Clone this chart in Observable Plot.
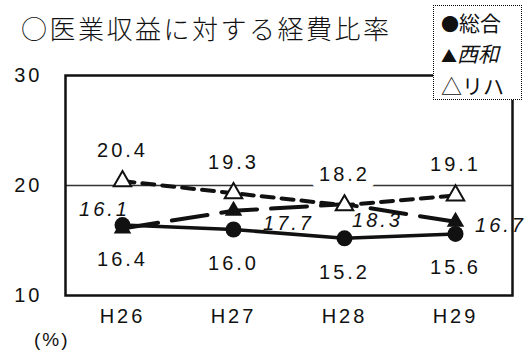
<!DOCTYPE html>
<html><head><meta charset="utf-8">
<script src="https://cdn.jsdelivr.net/npm/d3@7"></script>
<script src="https://cdn.jsdelivr.net/npm/@observablehq/plot@0.6"></script>
<style>
body{margin:0;background:#fff;}
#wrap{position:relative;width:526px;height:352px;overflow:hidden;background:#fff;}
#chart{position:absolute;left:0;top:0;}
#title{position:absolute;left:21px;top:11px;font-family:"Noto Sans CJK JP";font-size:26px;letter-spacing:2.5px;line-height:34px;white-space:nowrap;color:#111;font-weight:300;}
#legend{position:absolute;left:433px;top:5px;width:80px;height:92px;border:1.5px dotted #000;background:#fff;font-family:"Noto Sans CJK JP";font-size:21px;line-height:30px;padding:1px 0 0 7px;box-sizing:content-box;color:#111;white-space:nowrap;}
#legend .it{font-style:italic;}
#unit{position:absolute;left:34px;top:329px;font-family:"Liberation Sans";font-size:19px;color:#111;letter-spacing:2px;}
</style></head>
<body>
<div id="wrap">
  <div id="chart"></div>
  <div id="title">○医業収益に対する経費比率</div>
  <div id="legend"><div><span style="font-size:18px">●</span>総合</div><div><span style="font-size:16px">▲</span><span class="it">西和</span></div><div>△リハ</div></div>
  <div id="unit">(%)</div>
</div>
<script>
const years = ["H26", "H27", "H28", "H29"];
const sogo = [16.4, 16.0, 15.2, 15.6];
const seiwa = [16.1, 17.7, 18.3, 16.7];
const riha = [20.4, 19.3, 18.2, 19.1];
const yTicks = [10, 20, 30];

const rows = (vals) => years.map((year, i) => ({year, value: vals[i]}));
const S = rows(sogo), W = rows(seiwa), R = rows(riha);
const fmt = d => d.value.toFixed(1);
// label offsets (layout only) for the 西和 italic labels
const seiwaOffsets = [[-18, -19], [55, 13], [33, 16], [45, 4]];
const ink = "#111";

const chart = Plot.plot({
  width: 526, height: 352,
  marginLeft: 65, marginRight: 14, marginTop: 75, marginBottom: 57,
  x: {type: "point", domain: years, padding: 0.5},
  y: {domain: [10, 30]},
  style: {fontFamily: "Liberation Sans", fontSize: "20px", color: ink, background: "transparent", letterSpacing: "3px"},
  marks: [
    Plot.ruleY([20], {stroke: "#333", strokeWidth: 1.5}),
    Plot.axisY({ticks: yTicks, tickSize: 0, tickPadding: 23, fontSize: 20, label: null}),
    Plot.axisX({tickSize: 0, tickPadding: 13, fontSize: 20, label: null}),
    Plot.text(R, {x: "year", y: "value", text: fmt, dy: -31, fill: ink, stroke: "white", strokeWidth: 17, paintOrder: "stroke"}),
    Plot.lineY(R, {x: "year", y: "value", stroke: ink, strokeWidth: 4, strokeDasharray: "12,8"}),
    Plot.lineY(W, {x: "year", y: "value", stroke: ink, strokeWidth: 4, strokeDasharray: "36,14"}),
    Plot.lineY(S, {x: "year", y: "value", stroke: ink, strokeWidth: 3.5}),
    Plot.dot(S, {x: "year", y: "value", r: 8, fill: ink}),
    Plot.dot(W, {x: "year", y: "value", symbol: "triangle", r: 6.5, fill: ink}),
    Plot.dot(R, {x: "year", y: "value", symbol: "triangle", r: 6.5, fill: "white", stroke: ink, strokeWidth: 2}),
    Plot.text(S, {x: "year", y: "value", text: fmt, dy: 34, fill: ink}),
    ...W.map((d, i) => Plot.text([d], {x: "year", y: "value", text: fmt, dx: seiwaOffsets[i][0], dy: seiwaOffsets[i][1], fill: ink, fontStyle: "italic"})),
    Plot.frame({stroke: ink, strokeWidth: 2.5})
  ]
});
document.getElementById("chart").appendChild(chart);
</script>
</body></html>
